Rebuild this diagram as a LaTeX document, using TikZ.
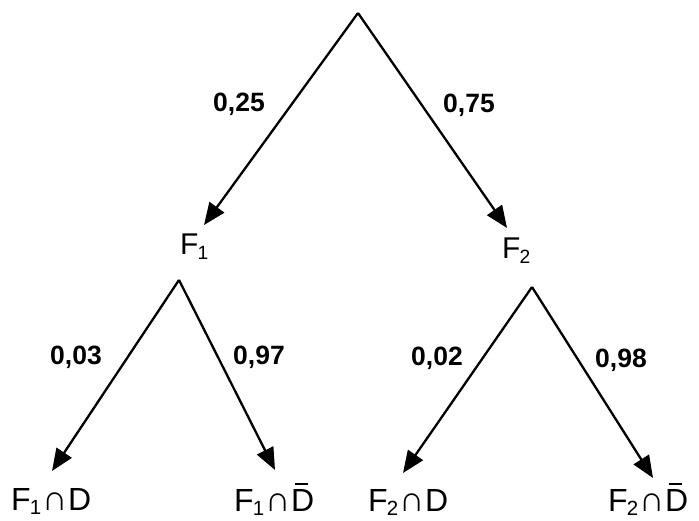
\documentclass[tikz,border=0pt]{standalone}
\usepackage{fontspec}
\setmainfont{Liberation Sans}
\usetikzlibrary{arrows.meta}
\newcommand{\sbs}[1]{\kern-0.03em\raisebox{-0.15em}{\scalebox{0.64}{#1}}}
\newcommand{\Dbarx}{{\setbox0\hbox{D}\rlap{\hspace{0.15\wd0}\raisebox{1.18\ht0}{\rule{0.6\wd0}{0.075em}}}D}}
\newcommand{\capx}{\kern0.03em\scalebox{1.1}{∩}\kern0.02em}
\begin{document}
\begin{tikzpicture}[x=1pt,y=-1pt,
  arr/.style={line width=2.3pt,-{Triangle[length=22pt,width=18pt]}},
  lbl/.style={inner sep=0pt,anchor=base west,font=\bfseries\fontsize{26.5}{26.5}\selectfont},
  nd/.style={inner sep=0pt,anchor=base west,font=\fontsize{30}{30}\selectfont},
  leaf/.style={inner sep=0pt,anchor=base west,font=\fontsize{32}{32}\selectfont}]
\useasboundingbox (0,0) rectangle (699,521);
% coordinates
\coordinate (root) at (358,13);
\coordinate (t1) at (204,225);
\coordinate (t2) at (507,228);
\coordinate (a1) at (179,280);
\coordinate (a2) at (532,287);
\coordinate (t11) at (52,471);
\coordinate (t12) at (275,470);
\coordinate (t21) at (403,473);
\coordinate (t22) at (653,478);
% arrows
\draw[arr] (root) -- (t1);
\draw[arr] (root) -- (t2);
\draw[arr] (a1) -- (t11);
\draw[arr] (a1) -- (t12);
\draw[arr] (a2) -- (t21);
\draw[arr] (a2) -- (t22);
% nodes
\node[nd] (F1) at (180,255) {F\sbs{1}};
\node[nd] (F2) at (502,259) {F\sbs{2}};
\node[leaf] (L11) at (11,510) {F\sbs{1}\capx D};
\node[leaf] (L12) at (234,511) {F\sbs{1}\capx\Dbarx};
\node[leaf] (L21) at (368,511) {F\sbs{2}\capx D};
\node[leaf] (L22) at (608,511) {F\sbs{2}\capx\Dbarx};
% labels
\node[lbl] (p1) at (213,112) {0,25};
\node[lbl] (p2) at (443,113) {0,75};
\node[lbl] (p11) at (50,365) {0,03};
\node[lbl] (p12) at (233,365) {0,97};
\node[lbl] (p21) at (411,366) {0,02};
\node[lbl] (p22) at (595,367) {0,98};
\end{tikzpicture}
\end{document}
